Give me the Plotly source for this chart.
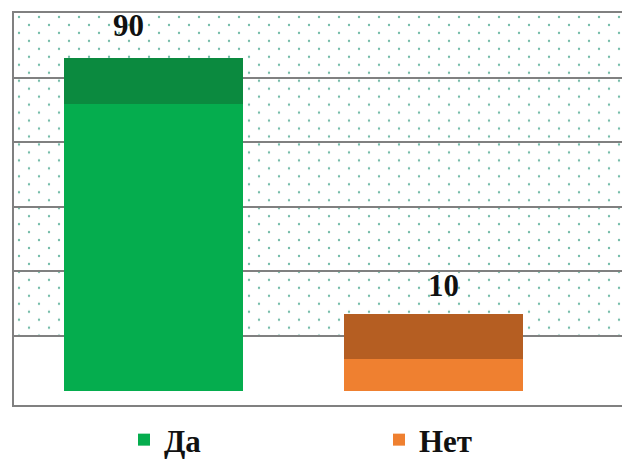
import base64
import plotly.graph_objects as go

# ---- data ----
categories = ["Да", "Нет"]
values = [90, 10]
label_texts = ["90", "10"]

# ---- style ----
front_colors = ["#05ad4e", "#ef8030"]
top_colors = ["#0b8a3f", "#b55e22"]
depth = 14.2          # visual depth of the 3D top face (in value units)
bar_width = 0.64
label_xshift = [-25, 10]
label_yshift = [33, 28]
font_family = "Liberation Serif, Times New Roman, serif"
grid_color = "#808080"

# page layout (window pixel targets; the html body adds an 8px offset)
OFF = 8
FIG_W, FIG_H = 630, 459
plot_left, plot_top, plot_bottom = 14, 13, 407
legend_px = [124, 379]
legend_cy = 442

y_range = [-4.4, 118.4]
wall_bottom = 17.4
grid_step = 20.2
grid_vals = [wall_bottom + k * grid_step for k in range(5)]

m_l = plot_left - OFF
m_t = plot_top - OFF
paper_w = FIG_W - m_l
paper_h = FIG_H - m_t
plot_w = FIG_W + OFF - plot_left
legend_names = ["legend", "legend2"]

fig = go.Figure()
xs = list(range(len(categories)))
for i, (cat, v) in enumerate(zip(categories, values)):
    fig.add_trace(go.Bar(
        x=[xs[i]], y=[v], base=[0], name=cat, width=bar_width,
        marker=dict(color=front_colors[i], line=dict(width=0)),
        showlegend=True, hoverinfo="skip", legend=legend_names[i],
    ))
    fig.add_trace(go.Bar(
        x=[xs[i]], y=[depth], base=[v], width=bar_width,
        marker=dict(color=top_colors[i], line=dict(width=0)),
        showlegend=False, hoverinfo="skip",
    ))
    fig.add_annotation(
        x=xs[i], y=v + depth, text=label_texts[i], showarrow=False,
        yanchor="middle", yshift=label_yshift[i], xshift=label_xshift[i],
        font=dict(family=font_family, size=31, color="#111111", weight="bold"),
    )

# dotted back-wall pattern
W, H = plot_w, 324
svg = f'''<svg xmlns="http://www.w3.org/2000/svg" width="{W}" height="{H}" viewBox="0 0 {W} {H}">
<defs><pattern id="p" width="20" height="16" patternUnits="userSpaceOnUse">
<circle cx="5" cy="4" r="1.2" fill="#74bca8"/>
<circle cx="15" cy="12" r="1.2" fill="#74bca8"/>
</pattern></defs>
<rect width="{W}" height="{H}" fill="url(#p)"/></svg>'''
src = "data:image/svg+xml;base64," + base64.b64encode(svg.encode()).decode()
fig.add_layout_image(
    source=src, xref="paper", yref="y", x=0, y=y_range[1],
    sizex=1, sizey=y_range[1] - wall_bottom, sizing="stretch",
    xanchor="left", yanchor="top", layer="below",
)

legend_style = dict(
    orientation="h", xanchor="left",
    y=(FIG_H - (legend_cy - OFF)) / paper_h, yanchor="middle",
    font=dict(family=font_family, size=31, color="#111111", weight="bold"),
    bgcolor="rgba(0,0,0,0)", borderwidth=0,
)

fig.update_layout(
    width=FIG_W, height=FIG_H,
    margin=dict(l=m_l, r=0, t=m_t, b=0, pad=0),
    paper_bgcolor="white", plot_bgcolor="white",
    barmode="overlay", bargap=0,
    xaxis=dict(range=[-0.5, 1.73], domain=[0, 1], showticklabels=False,
               showgrid=False, zeroline=False, showline=True,
               linecolor=grid_color, linewidth=2, mirror=True, ticks=""),
    yaxis=dict(range=y_range,
               domain=[(FIG_H - (plot_bottom - OFF)) / paper_h, 1],
               showticklabels=False, showgrid=True,
               gridcolor=grid_color, gridwidth=1.5, tickmode="array",
               tickvals=grid_vals, zeroline=False, showline=True,
               linecolor=grid_color, linewidth=2, ticks=""),
    legend=dict(x=(legend_px[0] - plot_left) / plot_w, **legend_style),
    legend2=dict(x=(legend_px[1] - plot_left) / plot_w, **legend_style),
    showlegend=True,
)

fig.write_html("out.html")
